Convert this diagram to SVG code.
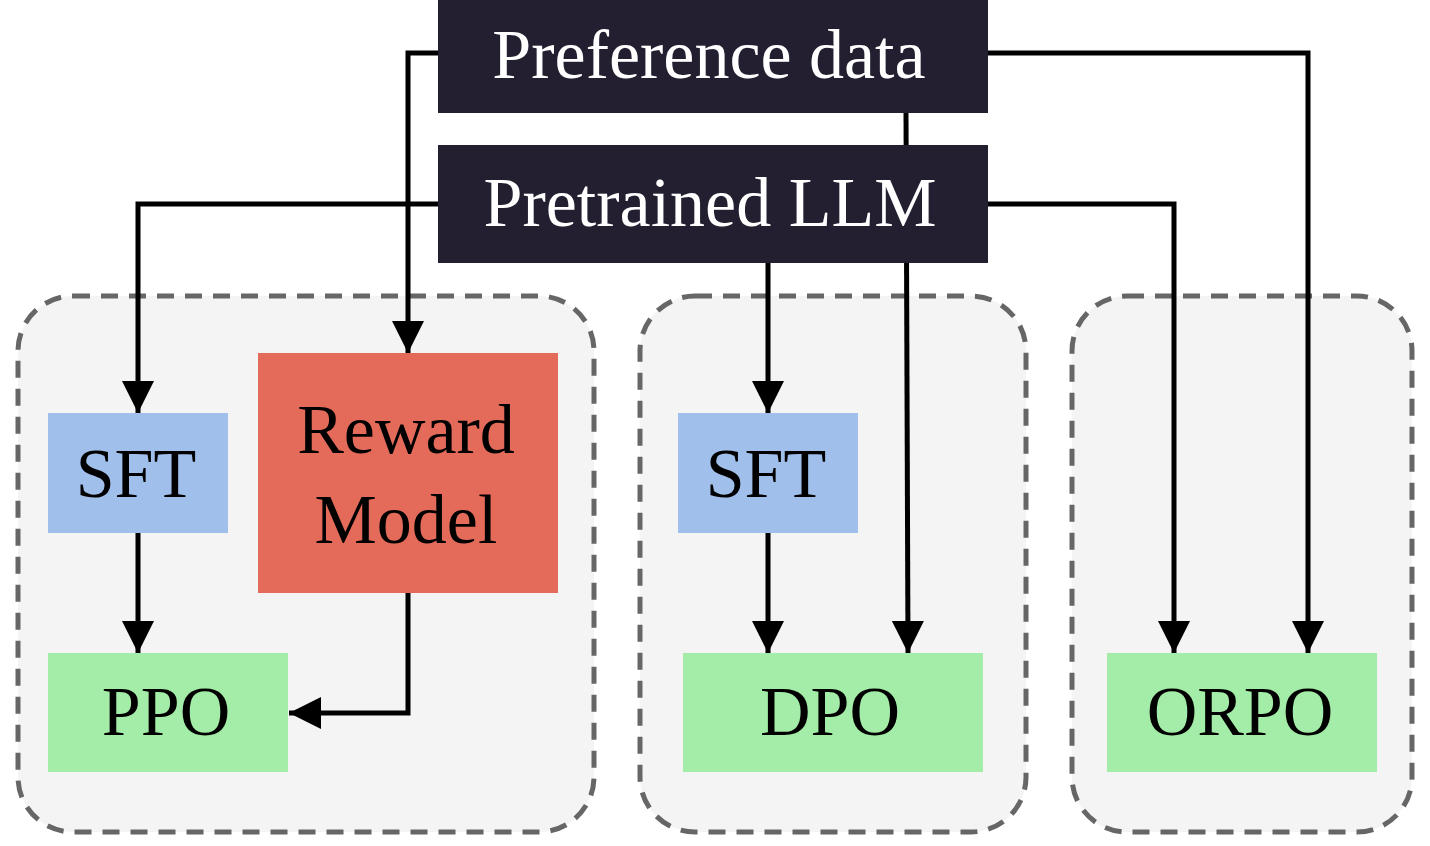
<svg xmlns="http://www.w3.org/2000/svg" width="1430" height="846" viewBox="0 0 1430 846">
<style>
.grp{fill:#f4f4f4;stroke:#666;stroke-width:5;stroke-dasharray:17 11}
.dark{fill:#231f31}
.sft{fill:#a1bfeb}
.rm{fill:#e46b5a}
.out{fill:#a4eda9}
.t{font-family:"Liberation Serif","Times New Roman",serif;font-size:70px;text-anchor:middle}
.w{fill:#ffffff}
.k{fill:#000000}
.c{fill:none;stroke:#000;stroke-width:5}
</style>
<defs>
<marker id="ah" markerUnits="userSpaceOnUse" markerWidth="34" markerHeight="34" viewBox="0 0 34 34" refX="32" refY="17" orient="auto">
<path d="M0,1 L32,17 L0,33 Z" fill="#000"/>
</marker>
</defs>
<rect width="1430" height="846" fill="#fff"/>
<g id="groups">
<rect class="grp" x="18" y="296" width="576" height="536" rx="55"/>
<rect class="grp" x="640" y="296" width="386" height="536" rx="55"/>
<rect class="grp" x="1072" y="296" width="340" height="536" rx="55"/>
</g>
<g id="connectors">
<path class="c" d="M906,113 L908,653" marker-end="url(#ah)"/>
<path class="c" d="M438,53 L408,53 L408,353" marker-end="url(#ah)"/>
<path class="c" d="M438,204 L138,204 L138,413" marker-end="url(#ah)"/>
<path class="c" d="M138,533 L138,653" marker-end="url(#ah)"/>
<path class="c" d="M408,593 L408,713 L289,713" marker-end="url(#ah)"/>
<path class="c" d="M768,263 L768,413" marker-end="url(#ah)"/>
<path class="c" d="M768,533 L768,653" marker-end="url(#ah)"/>
<path class="c" d="M988,204 L1174,204 L1174,653" marker-end="url(#ah)"/>
<path class="c" d="M988,53 L1308,53 L1308,653" marker-end="url(#ah)"/>
</g>
<g id="preference-data">
<rect class="dark" x="438" y="0" width="550" height="113"/>
<text class="t w" x="709" y="78" font-size="72">Preference data</text>
</g>
<g id="pretrained-llm">
<rect class="dark" x="438" y="145" width="550" height="118"/>
<text class="t w" x="710" y="226" font-size="72">Pretrained LLM</text>
</g>
<g id="sft-1">
<rect class="sft" x="48" y="413" width="180" height="120"/>
<text class="t k" x="136" y="497">SFT</text>
</g>
<g id="reward-model">
<rect class="rm" x="258" y="353" width="300" height="240"/>
<text class="t k" x="406" y="453">Reward</text>
<text class="t k" x="406" y="543">Model</text>
</g>
<g id="ppo">
<rect class="out" x="48" y="653" width="240" height="119"/>
<text class="t k" x="166" y="735">PPO</text>
</g>
<g id="sft-2">
<rect class="sft" x="678" y="413" width="180" height="120"/>
<text class="t k" x="766" y="497">SFT</text>
</g>
<g id="dpo">
<rect class="out" x="683" y="653" width="300" height="119"/>
<text class="t k" x="830" y="735">DPO</text>
</g>
<g id="orpo">
<rect class="out" x="1107" y="653" width="270" height="119"/>
<text class="t k" x="1240" y="735">ORPO</text>
</g>
</svg>
